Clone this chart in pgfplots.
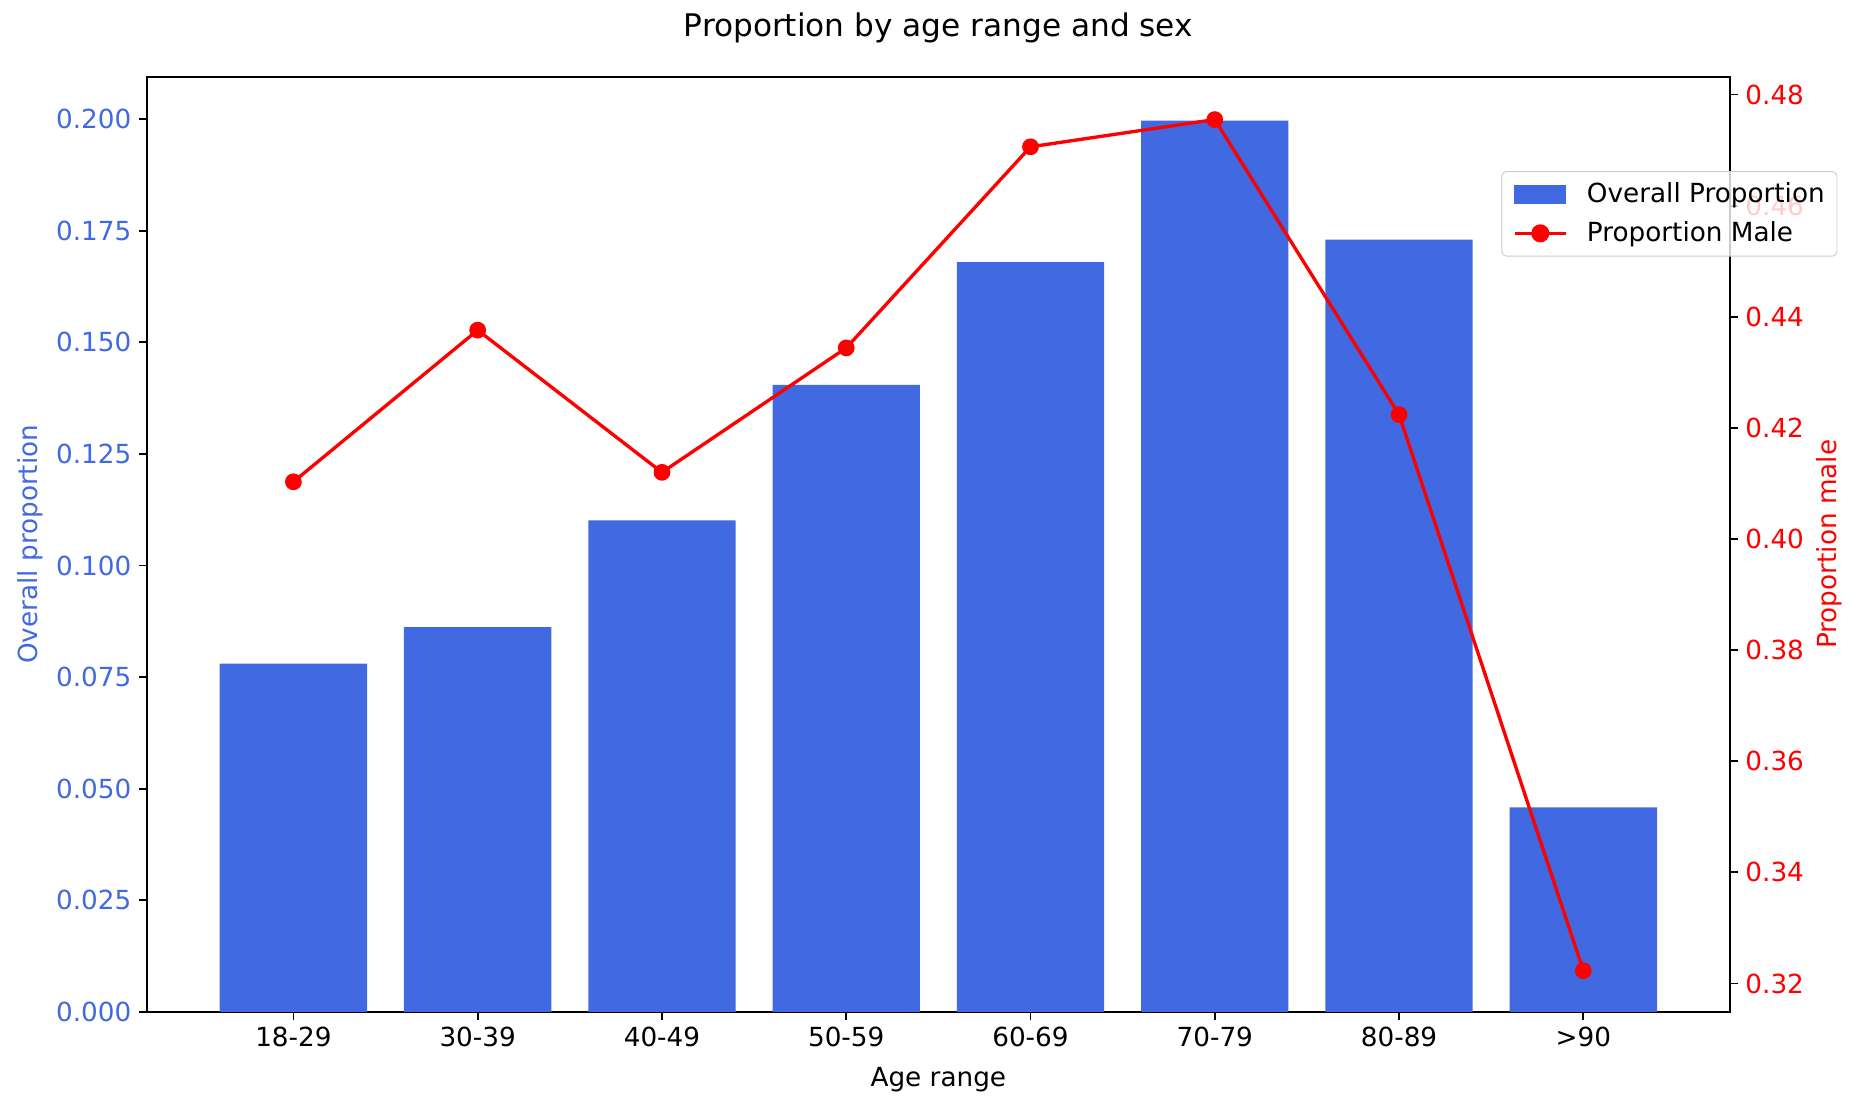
\documentclass[border=0pt]{standalone}
\usepackage{pgfplots}
\pgfplotsset{compat=1.18}
\usepackage{fontspec}
\setmainfont{DejaVu Sans}
\definecolor{royalblue}{RGB}{65,105,225}
\definecolor{mplred}{RGB}{255,0,0}
\definecolor{legframe}{RGB}{204,204,204}
\begin{document}
\begin{tikzpicture}
\pgfplotsset{every axis/.append style={
  width=711pt, height=420pt, scale only axis,
  xmin=-0.795, xmax=7.795,
  /pgf/number format/assume math mode=true,
  font=\fontsize{11.8}{14}\selectfont,
  tick align=outside,
  major tick length=3.5pt,
  every tick/.style={black, line width=0.8pt},
  axis line style={line width=0.8pt},
}}
\begin{axis}[
  ymin=0, ymax=0.2095,
  xtick={0,1,2,3,4,5,6,7},
  xticklabels={18-29,30-39,40-49,50-59,60-69,70-79,80-89,>90},
  xtick pos=bottom, ytick pos=left,
  ytick={0,0.025,0.05,0.075,0.1,0.125,0.15,0.175,0.2},
  yticklabel style={text=royalblue, /pgf/number format/.cd, fixed, fixed zerofill, precision=3},
  scaled y ticks=false,
  ylabel={Overall proportion}, ylabel style={text=royalblue}, ylabel shift=-1pt,
  xlabel={Age range}, xlabel shift=2pt,
  title={Proportion by age range and sex},
  title style={font=\fontsize{14}{16}\selectfont, at={(0.5,1)}, anchor=base, yshift=11.9pt},
]
\coordinate (SW) at (rel axis cs:0,0);
\coordinate (NE) at (rel axis cs:1,1);
\addplot[ybar, bar width=0.8, bar shift=0pt, fill=royalblue, draw=none] coordinates {
 (0,0.0780) (1,0.0862) (2,0.1101) (3,0.1405) (4,0.1680) (5,0.1997) (6,0.1730) (7,0.0458)
};
\end{axis}
\begin{axis}[
  ymin=0.3149, ymax=0.4832,
  axis x line=none,
  axis y line*=right,
  ytick={0.32,0.34,0.36,0.38,0.40,0.42,0.44,0.46,0.48},
  yticklabel style={text=mplred, /pgf/number format/.cd, fixed, fixed zerofill, precision=2},
  scaled y ticks=false,
  ylabel={Proportion male}, ylabel style={text=mplred}, ylabel shift=-1pt,
  legend style={at={(1.068,0.899)}, anchor=north east, draw=legframe, rounded corners=2pt,
    fill=white, fill opacity=0.8, text opacity=1, font=\fontsize{11.8}{14}\selectfont,
    inner xsep=5pt, inner ysep=3pt, row sep=3pt, column sep=8.2pt,
    nodes={inner xsep=0.5pt}, cells={anchor=west}},
  legend cell align=left,
]
\addlegendimage{legend image code/.code={\fill[royalblue, fill opacity=1, sharp corners] (0pt,-4pt) rectangle (23pt,4pt);}}
\addlegendentry{Overall Proportion}
\addplot[mplred, line width=1.5pt, mark=*, mark size=3pt, mark options={solid, fill=mplred, draw=mplred},
  legend image code/.code={\draw[mplred,line width=1.5pt, draw opacity=1, sharp corners] (0pt,0pt) -- (23pt,0pt); \fill[mplred, fill opacity=1] (11.5pt,0pt) circle (3.3pt);}]
 coordinates {
 (0,0.4103) (1,0.4376) (2,0.4120) (3,0.4344) (4,0.4706) (5,0.4755) (6,0.4224) (7,0.3223)
};
\addlegendentry{Proportion Male}
\end{axis}
\pgfresetboundingbox
\path[use as bounding box] ([xshift=-66pt,yshift=-38.7pt]SW) rectangle ([xshift=54pt,yshift=34.5pt]NE);
\end{tikzpicture}
\end{document}
